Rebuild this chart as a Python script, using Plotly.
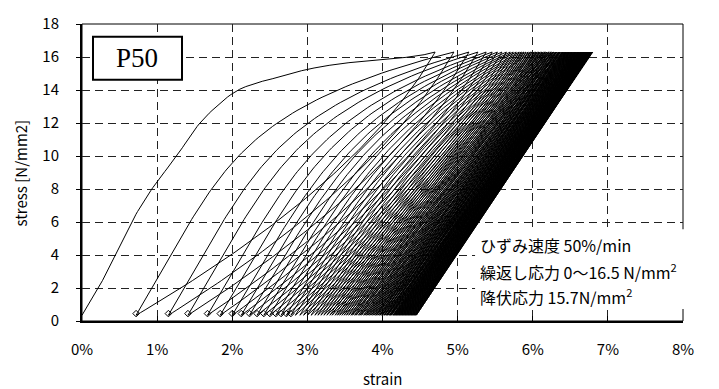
import numpy as np
import plotly.graph_objects as go

# ---- data (strain in %, stress in N/mm2) ----
# first loading curve
first_stress = [0.35, 2, 4, 6, 8, 10, 12, 13, 14, 14.4, 14.7, 15.25, 15.6, 15.85, 16.05, 16.3]
first_strain = [0.00, 0.22, 0.44, 0.66, 0.93, 1.26, 1.57, 1.79, 2.08, 2.30, 2.55, 3.00, 3.45, 4.00, 4.45, 4.70]

# residual strain at the start of each loading cycle (bottom turning points)
hooks = [0.00, 0.72, 1.15, 1.41, 1.67, 1.84, 2.00, 2.12, 2.23, 2.33,
         2.42, 2.50, 2.58, 2.65, 2.72, 2.78, 2.84, 2.90, 2.95, 3.00,
         3.05, 3.10, 3.14, 3.18, 3.22, 3.26, 3.30, 3.33, 3.37, 3.40,
         3.43, 3.46, 3.49, 3.52, 3.55, 3.58, 3.60, 3.63, 3.65, 3.68,
         3.70, 3.72, 3.75, 3.77, 3.79, 3.81, 3.83, 3.85, 3.87, 3.89,
         3.91, 3.92, 3.94, 3.96, 3.97, 3.99, 4.00, 4.02, 4.03, 4.05,
         4.06, 4.07, 4.09, 4.10, 4.11, 4.12, 4.14, 4.15, 4.16, 4.17,
         4.18, 4.19, 4.20, 4.21, 4.22, 4.23, 4.24, 4.25, 4.26, 4.27,
         4.28, 4.29, 4.30, 4.31, 4.32, 4.33, 4.34, 4.35, 4.36, 4.37,
         4.38, 4.39, 4.40, 4.41, 4.42, 4.43, 4.44, 4.45]

# strain at the top of each cycle
peaks = [4.70, 4.95, 5.15, 5.27, 5.38, 5.46, 5.53, 5.59, 5.65, 5.70,
         5.74, 5.78, 5.82, 5.85, 5.88, 5.91, 5.94, 5.97, 5.99, 6.02,
         6.04, 6.06, 6.08, 6.10, 6.12, 6.14, 6.16, 6.17, 6.19, 6.21,
         6.22, 6.24, 6.25, 6.27, 6.28, 6.30, 6.31, 6.32, 6.34, 6.35,
         6.36, 6.37, 6.39, 6.40, 6.41, 6.42, 6.43, 6.44, 6.45, 6.46,
         6.47, 6.48, 6.49, 6.50, 6.51, 6.52, 6.53, 6.54, 6.55, 6.56,
         6.57, 6.57, 6.58, 6.59, 6.60, 6.61, 6.61, 6.62, 6.63, 6.64,
         6.64, 6.65, 6.66, 6.66, 6.67, 6.68, 6.68, 6.69, 6.70, 6.70,
         6.71, 6.71, 6.72, 6.73, 6.73, 6.74, 6.74, 6.75, 6.75, 6.76,
         6.76, 6.77, 6.77, 6.78, 6.78, 6.79, 6.79, 6.80]

stress_min = 0.35
stress_peak = 16.3

x_ticks = [0, 1, 2, 3, 4, 5, 6, 7, 8]
y_ticks = [0, 2, 4, 6, 8, 10, 12, 14, 16, 18]


def pchip(xk, yk, x):
    xk = np.asarray(xk, float); yk = np.asarray(yk, float)
    hk = np.diff(xk); dk = np.diff(yk) / hk
    m = np.zeros_like(xk)
    m[0], m[-1] = dk[0], dk[-1]
    for k in range(1, len(xk) - 1):
        if dk[k - 1] * dk[k] > 0:
            w1 = 2 * hk[k] + hk[k - 1]; w2 = hk[k] + 2 * hk[k - 1]
            m[k] = (w1 + w2) / (w1 / dk[k - 1] + w2 / dk[k])
    idx = np.clip(np.searchsorted(xk, x) - 1, 0, len(xk) - 2)
    t = (x - xk[idx]) / hk[idx]
    h00 = 2 * t**3 - 3 * t**2 + 1; h10 = t**3 - 2 * t**2 + t
    h01 = -2 * t**3 + 3 * t**2; h11 = t**3 - t**2
    return h00 * yk[idx] + h10 * hk[idx] * m[idx] + h01 * yk[idx + 1] + h11 * hk[idx] * m[idx + 1]


# ---- build the cycles ----
s = np.linspace(0, 1, 100)
span = stress_peak - stress_min
xs, ys = [], []
n = len(hooks)
for i in range(n):
    h, p = hooks[i], peaks[i]
    E = 6.8 + 1.2 * np.exp(-i / 30.0)
    if i == 0:
        yl = stress_min + s * span
        xl = pchip(first_stress, first_strain, np.clip(yl, first_stress[0], first_stress[-1]))
    else:
        k = 2.0 + 3.5 * np.exp(-i / 20.0)
        P = max(p - h - span / E, 0.0)
        xl = h + s * span / E + P * s**k
        yl = stress_min + s * span
    xs += list(xl); ys += list(yl)
    if i < n - 1:
        hn = hooks[i + 1]
        R = max(p - hn - span / E, 0.0)
        su = s[::-1]
        xu = p - (1 - su) * span / E - R * (1 - su) ** 2
        yu = stress_min + su * span
        xs += list(xu); ys += list(yu)

fig = go.Figure()
fig.add_trace(go.Scatter(x=xs, y=ys, mode="lines",
                         line=dict(color="black", width=1), hoverinfo="skip",
                         showlegend=False))
fig.add_trace(go.Scatter(x=hooks[1:16], y=[stress_min + 0.1] * 15, mode="markers",
                         marker=dict(symbol="diamond-open", size=5, color="black",
                                     line=dict(color="black", width=1)),
                         hoverinfo="skip", showlegend=False))

tick_font = dict(family="Noto Sans CJK JP", size=15, color="black")
grid_common = dict(showgrid=True, gridcolor="#222", gridwidth=1, griddash="8px,5px",
                   zeroline=False, showline=True, linecolor="black", linewidth=2,
                   tickfont=tick_font, tickcolor="black")

fig.update_xaxes(range=[0, 8], tickvals=x_ticks, ticktext=[f"{v}%" for v in x_ticks],
                 ticks="inside", ticklen=5, ticklabelstandoff=14, **grid_common)
fig.update_yaxes(range=[0, 18], tickvals=y_ticks, ticks="outside", ticklen=4,
                 ticklabelstandoff=14, **grid_common)

shapes = [
    dict(type="rect", xref="paper", yref="paper", x0=0, x1=1, y0=0, y1=1,
         line=dict(color="black", width=1), layer="below"),
    dict(type="rect", xref="paper", yref="paper", x0=0.0183, x1=0.1664, y0=0.8125, y1=0.957,
         line=dict(color="black", width=2), fillcolor="white", layer="above"),
    dict(type="rect", xref="paper", yref="paper", x0=0.654, x1=1.04, y0=0.04, y1=0.309,
         line=dict(width=0), fillcolor="white", layer="above"),
]

ann_font = dict(family="Noto Sans CJK JP", size=16, color="black")
annotations = [
    dict(text="P50", xref="paper", yref="paper", x=0.0923, y=0.885, showarrow=False,
         font=dict(family="Liberation Serif", size=27, color="black"),
         xanchor="center", yanchor="middle"),
    dict(text="ひずみ速度 50%/min", xref="paper", yref="paper", x=0.659, y=0.2566,
         showarrow=False, font=ann_font, xanchor="left", yanchor="middle"),
    dict(text="繰返し応力 0〜16.5 N/mm<sup>2</sup>", xref="paper", yref="paper", x=0.659, y=0.1678,
         showarrow=False, font=ann_font, xanchor="left", yanchor="middle"),
    dict(text="降伏応力 15.7N/mm<sup>2</sup>", xref="paper", yref="paper", x=0.659, y=0.0822,
         showarrow=False, font=ann_font, xanchor="left", yanchor="middle"),
    dict(text="strain", xref="paper", yref="paper", x=0.5, y=-0.194, showarrow=False,
         font=dict(family="Noto Sans CJK JP", size=15, color="black"),
         xanchor="center", yanchor="middle"),
    dict(text="stress [N/mm2]", xref="paper", yref="paper", x=-0.1015, y=0.5, showarrow=False,
         textangle=-90, font=dict(family="Noto Sans CJK JP", size=15, color="black"),
         xanchor="center", yanchor="middle"),
]

fig.update_layout(width=719, height=389, margin=dict(l=82, r=36, t=17, b=68),
                  paper_bgcolor="white", plot_bgcolor="white",
                  shapes=shapes, annotations=annotations)

fig.write_html("out.html")
